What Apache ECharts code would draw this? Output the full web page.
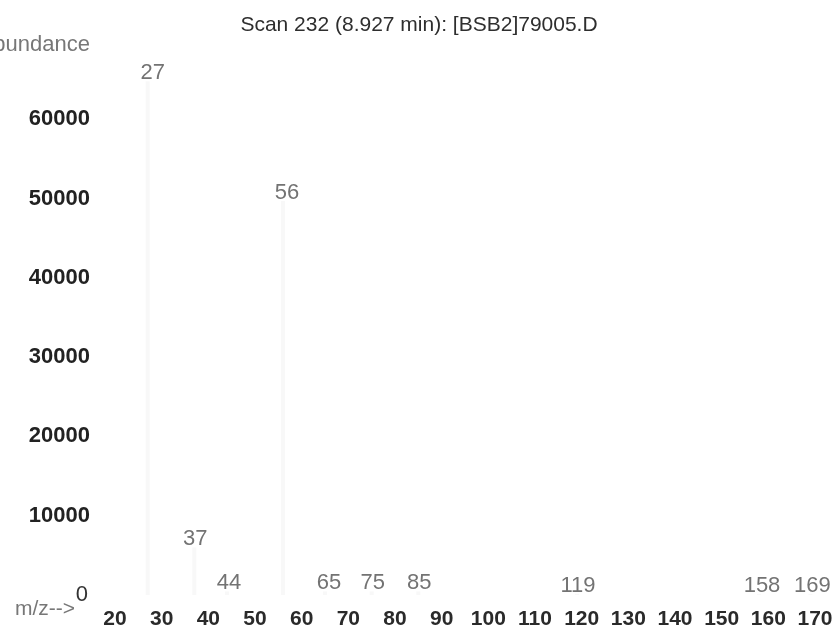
<!DOCTYPE html>
<html><head><meta charset="utf-8">
<script src="https://cdn.jsdelivr.net/npm/echarts@6/dist/echarts.min.js"></script>
<style>html,body{margin:0;padding:0;background:#fff}#c{width:838px;height:630px}</style>
</head><body><div id="c"></div>
<script>
var mz = [27, 37, 44, 56, 65, 75, 85, 119, 158, 169];
var abundance = [64800, 6000, 450, 49700, 450, 450, 450, 150, 100, 100];
var xTicks = [20,30,40,50,60,70,80,90,100,110,120,130,140,150,160,170];
var yTicks = [0,10000,20000,30000,40000,50000,60000];
var labelShift = [5, 1, 2, 4, 4, 1, 1, 1, 3, 2];

var FONT = 'Liberation Sans';
var chart = echarts.init(document.getElementById('c'));
var data = mz.map(function(m, i){
  return {value:[m, abundance[i]], label:{offset:[labelShift[i],3]}};
});
chart.setOption({
  animation:false,
  title:{text:'Scan 232 (8.927 min): [BSB2]79005.D', left:414, textAlign:'center', top:10,
    textStyle:{fontFamily:FONT, fontSize:21, fontWeight:'normal', color:'#2e2e2e'}},
  grid:{left:115, right:23, top:40, bottom:35},
  xAxis:{type:'value', min:20, max:170, interval:10,
    axisLine:{show:false}, axisTick:{show:false}, splitLine:{show:false},
    axisLabel:{margin:14, fontFamily:FONT, fontSize:21, fontWeight:'bold', color:'#2a2a2a',
      formatter:function(v){return xTicks.indexOf(v)>=0 ? String(v) : '';}}},
  yAxis:{type:'value', min:0, max:70000, interval:10000,
    axisLine:{show:false}, axisTick:{show:false}, splitLine:{show:false},
    axisLabel:{margin:25, fontFamily:FONT, fontSize:22, fontWeight:'bold', color:'#222',
      formatter:function(v){
        if (yTicks.indexOf(v)<0) return '';
        return v===0 ? '{z|0}' : String(v);
      },
      rich:{z:{fontFamily:FONT, fontSize:22, fontWeight:'normal', color:'#333', padding:[0,2,0,0]}}}},
  series:[{type:'bar', data:data, barWidth:4,
    itemStyle:{color:'#f8f8f8'},
    label:{show:true, position:'top', distance:0, fontFamily:FONT, fontSize:22, color:'#737373',
      formatter:function(p){return p.value[0];}}}],
  graphic:[
    {type:'text', x:90, y:45, style:{text:'Abundance', fontFamily:FONT, fontSize:22, fill:'#777',
      align:'right', verticalAlign:'middle'}},
    {type:'text', x:15, y:609, style:{text:'m/z-->', fontFamily:FONT, fontSize:21, fill:'#777',
      align:'left', verticalAlign:'middle'}}
  ]
});
</script></body></html>
